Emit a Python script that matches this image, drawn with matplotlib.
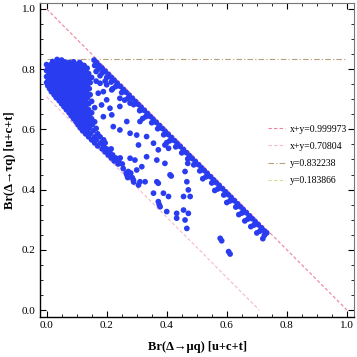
import matplotlib
matplotlib.use("Agg")
import matplotlib.pyplot as plt
from matplotlib.ticker import MultipleLocator

# ---- data ----
band_pts = [
    (0.158,0.830),(0.166,0.822),(0.175,0.812),(0.185,0.803),(0.195,0.793),(0.205,0.783),
    (0.215,0.773),(0.225,0.763),(0.235,0.753),(0.245,0.743),(0.255,0.733),(0.265,0.723),
    (0.275,0.713),(0.285,0.703),(0.295,0.693),(0.305,0.683),(0.315,0.673),(0.325,0.663),
    (0.335,0.653),(0.345,0.643),(0.355,0.633),(0.365,0.623),(0.375,0.613),(0.385,0.603),
    (0.395,0.593),(0.405,0.583),(0.415,0.573),(0.425,0.563),(0.435,0.553),(0.445,0.543),
    (0.455,0.533),(0.465,0.523),(0.475,0.513),(0.485,0.503),(0.495,0.493),(0.505,0.483),
    (0.515,0.473),(0.525,0.463),(0.535,0.453),(0.545,0.443),(0.555,0.433),(0.565,0.423),
    (0.575,0.413),(0.585,0.403),(0.595,0.393),(0.605,0.383),(0.615,0.373),(0.625,0.363),
    (0.635,0.353),(0.645,0.343),(0.655,0.333),(0.665,0.323),(0.675,0.313),(0.685,0.303),
    (0.695,0.293),(0.705,0.283),(0.715,0.273),(0.725,0.263),(0.733,0.256),
    (0.160,0.812),(0.172,0.800),(0.185,0.787),(0.200,0.772),(0.215,0.757),(0.230,0.742),
    (0.250,0.722),(0.270,0.702),(0.290,0.682),(0.310,0.662),(0.330,0.642),(0.350,0.622),
    (0.370,0.602),(0.390,0.582),(0.410,0.562),(0.430,0.542),(0.450,0.522),(0.470,0.502),
    (0.490,0.482),(0.510,0.462),(0.530,0.442),(0.550,0.422),(0.570,0.402),(0.590,0.382),
    (0.610,0.362),(0.630,0.342),(0.650,0.322),(0.670,0.302),(0.690,0.282),(0.710,0.262),
    (0.725,0.248),
    (0.165,0.792),(0.178,0.778),(0.195,0.760),(0.220,0.735),(0.260,0.697),(0.320,0.636),
    (0.400,0.556),(0.470,0.487),(0.520,0.436),(0.560,0.397),(0.600,0.357),(0.640,0.317),
    (0.660,0.296),(0.680,0.277),(0.700,0.256),(0.720,0.237),
]

cluster_pts = [
    (0.035,0.832),(0.050,0.830),
    (0.020,0.825),(0.040,0.825),(0.060,0.824),(0.075,0.822),(0.090,0.824),(0.110,0.822),
    (0.000,0.815),(0.015,0.815),(0.030,0.815),(0.045,0.815),(0.060,0.815),(0.075,0.815),
    (0.090,0.815),(0.100,0.815),(0.115,0.815),(0.125,0.812),
    (0.005,0.805),(0.020,0.805),(0.035,0.805),(0.050,0.805),(0.065,0.805),(0.080,0.805),
    (0.095,0.805),(0.110,0.805),(0.120,0.805),(0.135,0.803),
    (0.000,0.795),(0.012,0.795),(0.028,0.795),(0.042,0.795),(0.058,0.795),(0.072,0.795),
    (0.087,0.795),(0.100,0.795),(0.115,0.795),(0.130,0.795),
    (0.008,0.785),(0.022,0.785),(0.036,0.785),(0.050,0.785),(0.065,0.785),(0.080,0.785),
    (0.094,0.785),(0.108,0.785),(0.122,0.785),(0.140,0.785),
    (0.000,0.775),(0.015,0.775),(0.030,0.775),(0.044,0.775),(0.058,0.775),(0.073,0.775),
    (0.088,0.775),(0.102,0.775),(0.118,0.775),(0.132,0.775),(0.150,0.772),
    (0.006,0.765),(0.020,0.765),(0.035,0.765),(0.050,0.765),(0.064,0.765),(0.078,0.765),
    (0.092,0.765),(0.106,0.765),(0.120,0.765),(0.138,0.765),
    (0.000,0.755),(0.013,0.755),(0.027,0.755),(0.041,0.755),(0.056,0.755),(0.070,0.755),
    (0.085,0.755),(0.100,0.755),(0.114,0.755),(0.128,0.755),(0.145,0.755),
    (0.004,0.745),(0.018,0.745),(0.032,0.745),(0.047,0.745),(0.062,0.745),(0.077,0.745),
    (0.091,0.745),(0.105,0.745),(0.120,0.745),(0.135,0.745),
    (0.010,0.735),(0.024,0.735),(0.038,0.735),(0.053,0.735),(0.068,0.735),(0.082,0.735),
    (0.096,0.735),(0.110,0.735),(0.126,0.735),(0.142,0.735),
    (0.016,0.725),(0.030,0.725),(0.045,0.725),(0.060,0.725),(0.074,0.725),(0.088,0.725),
    (0.102,0.725),(0.118,0.725),(0.133,0.725),
    (0.025,0.715),(0.040,0.715),(0.054,0.715),(0.068,0.715),(0.083,0.715),(0.097,0.715),
    (0.112,0.715),(0.128,0.715),(0.145,0.715),
    (0.032,0.705),(0.047,0.705),(0.062,0.705),(0.076,0.705),(0.090,0.705),(0.105,0.705),
    (0.120,0.705),(0.136,0.705),
    (0.042,0.695),(0.056,0.695),(0.070,0.695),(0.085,0.695),(0.100,0.695),(0.114,0.695),
    (0.130,0.695),(0.150,0.693),
    (0.050,0.685),(0.064,0.685),(0.078,0.685),(0.092,0.685),(0.107,0.685),(0.122,0.685),
    (0.140,0.685),
    (0.058,0.675),(0.072,0.675),(0.087,0.675),(0.100,0.675),(0.115,0.675),(0.130,0.675),
    (0.160,0.672),
    (0.066,0.665),(0.080,0.665),(0.094,0.665),(0.108,0.665),(0.124,0.665),(0.140,0.665),
    (0.075,0.655),(0.090,0.655),(0.104,0.655),(0.118,0.655),(0.135,0.655),(0.150,0.655),
    (0.082,0.645),(0.096,0.645),(0.110,0.645),(0.126,0.645),(0.142,0.645),
    (0.090,0.635),(0.105,0.635),(0.120,0.635),(0.135,0.635),(0.150,0.635),
    (0.098,0.625),(0.112,0.625),(0.128,0.625),(0.145,0.625),(0.160,0.625),
    (0.105,0.615),(0.120,0.615),(0.135,0.615),(0.152,0.615),
    (0.112,0.605),(0.128,0.605),(0.142,0.605),(0.165,0.603),
    (0.120,0.595),(0.135,0.595),(0.155,0.595),
    (0.130,0.585),(0.145,0.585),(0.170,0.585),
    (0.140,0.575),(0.160,0.575),(0.178,0.575),
    (0.150,0.565),(0.165,0.565),(0.190,0.565),
    (0.160,0.555),(0.180,0.555),(0.195,0.555),
    (0.170,0.545),(0.190,0.545),
    (0.185,0.535),(0.200,0.535),(0.215,0.535),
    (0.195,0.525),(0.210,0.525),
    (0.205,0.515),(0.220,0.515),
    (0.215,0.505),(0.230,0.505),(0.245,0.505),
    (0.225,0.495),(0.240,0.495),
    (0.238,0.485),(0.252,0.485),
    (0.255,0.470),
    (0.265,0.455),(0.280,0.455),
    (0.270,0.440),(0.285,0.440),
    (0.290,0.425),
]

scatter_pts = [
    (0.165,0.760),(0.178,0.753),(0.172,0.720),(0.189,0.725),(0.217,0.731),(0.200,0.748),
    (0.244,0.703),(0.200,0.698),(0.183,0.681),(0.211,0.670),(0.244,0.676),(0.278,0.687),
    (0.311,0.664),(0.189,0.642),(0.217,0.648),(0.267,0.626),(0.311,0.626),(0.222,0.609),
    (0.244,0.598),(0.278,0.587),(0.300,0.581),(0.333,0.576),(0.306,0.548),(0.356,0.554),
    (0.372,0.532),(0.394,0.548),(0.406,0.537),(0.278,0.504),(0.294,0.498),(0.333,0.509),
    (0.367,0.498),(0.394,0.487),(0.272,0.460),(0.300,0.465),(0.317,0.476),(0.267,0.449),
    (0.289,0.432),(0.311,0.426),(0.328,0.426),(0.306,0.415),(0.367,0.426),(0.372,0.421),
    (0.411,0.449),(0.415,0.445),(0.461,0.460),(0.467,0.426),(0.472,0.399),(0.356,0.388),
    (0.389,0.388),(0.406,0.377),(0.372,0.360),(0.378,0.343),(0.375,0.350),(0.456,0.377),
    (0.478,0.377),(0.400,0.327),(0.433,0.321),(0.433,0.305),(0.456,0.332),(0.461,0.299),
    (0.472,0.321),(0.467,0.271),(0.578,0.238),(0.583,0.230),(0.606,0.194),(0.611,0.186),
]

line_labels = ["x+y=0.999973", "x+y=0.70804", "y=0.832238", "y=0.183866"]
diag1_x = [0.0, 1.0]
diag1_y = [0.999973, 0.0]
diag2_x = [0.0, 0.70804]
diag2_y = [0.70804, 0.0]
hline1_x = [0.0, 1.0]
hline1_y = [0.832238, 0.832238]

x_ticks = [0.0, 0.2, 0.4, 0.6, 0.8, 1.0]
y_ticks = [0.0, 0.2, 0.4, 0.6, 0.8, 1.0]

serif = ["Liberation Serif", "DejaVu Serif"]
plt.rcParams["font.family"] = serif

fig = plt.figure(figsize=(3.57, 3.57), dpi=100)
ax = fig.add_axes([0.112, 0.113, 0.880, 0.879])

pts_color = "#2a3cf0"
for pts in (cluster_pts, scatter_pts, band_pts):
    ax.scatter([p[0] for p in pts], [p[1] for p in pts], s=17, color=pts_color,
               edgecolors="none", zorder=3)

ax.plot(diag1_x, diag1_y, color="#f08098", lw=0.8, dashes=(3, 2), label=line_labels[0], zorder=2)
ax.plot(diag2_x, diag2_y, color="#f8b8c8", lw=0.8, dashes=(3, 2), label=line_labels[1], zorder=2)
ax.plot(hline1_x, hline1_y, color="#b8a07c", lw=0.8, dashes=(5, 2, 1, 2), label=line_labels[2], zorder=2)
ax.plot([], [], color="#d8d890", lw=0.8, dashes=(3, 2), label=line_labels[3])

ax.set_xlim(-0.022, 1.024)
ax.set_ylim(-0.022, 1.02)
ax.set_xticks(x_ticks)
ax.set_yticks(y_ticks)
ax.set_xticklabels([f"{v:.1f}" for v in x_ticks])
ax.set_yticklabels([f"{v:.1f}" for v in y_ticks])
ax.xaxis.set_minor_locator(MultipleLocator(0.05))
ax.yaxis.set_minor_locator(MultipleLocator(0.05))
ax.tick_params(which="both", direction="in", top=True, right=True, labelsize=8, pad=3)
ax.tick_params(which="major", length=4, width=0.8)
ax.tick_params(which="minor", length=2, width=0.6)
for s in ("left", "bottom"):
    ax.spines[s].set_linewidth(1.0)
    ax.spines[s].set_color("black")
for s in ("top", "right"):
    ax.spines[s].set_linewidth(0.8)
    ax.spines[s].set_color("#777777")

ax.set_xlabel("Br(Δ→μq) [u+c+t]", fontsize=9, fontweight="bold", labelpad=8)
ax.set_ylabel("Br(Δ→τq) [u+c+t]", fontsize=9, fontweight="bold", labelpad=4)

ax.legend(loc="upper left", bbox_to_anchor=(0.725, 0.612), frameon=False, fontsize=7,
          handlelength=1.8, handletextpad=0.5, labelspacing=0.85, borderpad=0,
          borderaxespad=0)

fig.savefig("out.png", dpi=100)
